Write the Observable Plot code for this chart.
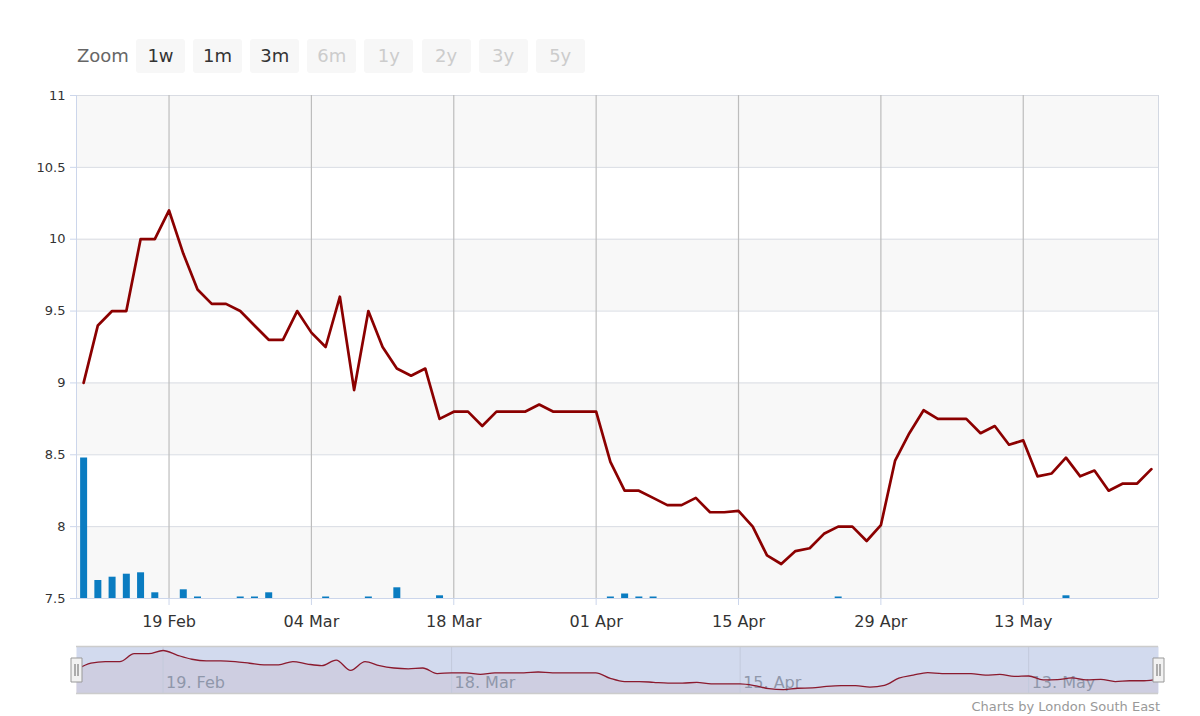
<!DOCTYPE html>
<html>
<head>
<meta charset="utf-8">
<script src="https://cdn.jsdelivr.net/npm/d3@7"></script>
<script src="https://cdn.jsdelivr.net/npm/@observablehq/plot@0.6"></script>
<style>
  html, body { margin: 0; padding: 0; background: #fff; }
  #wrap { position: relative; width: 1200px; height: 716px; font-family: "DejaVu Sans", sans-serif; overflow: hidden; }
  #zoomrow { position: absolute; left: 0; top: 0; width: 1200px; height: 85px; }
  #zoomlabel { position: absolute; left: 77px; top: 45px; font-size: 18px; color: #666; line-height: 22px; }
  .btn { position: absolute; top: 39px; width: 49px; height: 34px; background: #f7f7f7; border-radius: 3px;
         font-size: 18px; line-height: 34px; text-align: center; color: #333; }
  .btn.off { color: #ccc; }
  #main { position: absolute; left: 0; top: 85px; }
  #nav { position: absolute; left: 0; top: 630px; }
  #credits { position: absolute; right: 40px; top: 699px; font-size: 13px; color: #999; line-height: 16px; }
</style>
</head>
<body>
<div id="wrap">
  <div id="zoomrow"></div>
  <div id="main"></div>
  <div id="nav"></div>
  <div id="credits">Charts by London South East</div>
</div>
<script>
// ---- data (trading-day index order) ----
const prices = [
  9.0, 9.4, 9.5, 9.5, 10.0, 10.0, 10.2, 9.9, 9.65, 9.55,
  9.55, 9.5, 9.4, 9.3, 9.3, 9.5, 9.35, 9.25, 9.6, 8.95,
  9.5, 9.25, 9.1, 9.05, 9.1, 8.75, 8.8, 8.8, 8.7, 8.8,
  8.8, 8.8, 8.85, 8.8, 8.8, 8.8, 8.8, 8.45, 8.25, 8.25,
  8.2, 8.15, 8.15, 8.2, 8.1, 8.1, 8.11, 8.0, 7.8, 7.74,
  7.83, 7.85, 7.95, 8.0, 8.0, 7.9, 8.01, 8.46, 8.65, 8.81,
  8.75, 8.75, 8.75, 8.65, 8.7, 8.57, 8.6, 8.35, 8.37, 8.48,
  8.35, 8.39, 8.25, 8.3, 8.3, 8.4
];
const volumes = [
  1404, 180, 213, 243, 257, 57, 0, 87, 15, 0,
  0, 15, 15, 57, 0, 0, 0, 15, 0, 0,
  15, 0, 107, 0, 0, 27, 0, 0, 0, 0,
  0, 0, 0, 0, 0, 0, 0, 15, 45, 15,
  15, 0, 0, 0, 0, 0, 0, 0, 0, 0,
  0, 0, 0, 15, 0, 0, 0, 0, 0, 0,
  0, 0, 0, 0, 0, 0, 0, 0, 0, 27,
  0, 0, 0, 0, 0, 0
];
const tickIdx = [6, 16, 26, 36, 46, 56, 66];
const tickLabels = ["19 Feb", "04 Mar", "18 Mar", "01 Apr", "15 Apr", "29 Apr", "13 May"];
const navTickIdx = [6, 26, 46, 66];
const navTickLabels = ["19. Feb", "18. Mar", "15. Apr", "13. May"];
const yTicks = [7.5, 8, 8.5, 9, 9.5, 10, 10.5, 11];
const bandRanges = [[7.5, 8], [8.5, 9], [9.5, 10], [10.5, 11]];
const zoomButtons = ["1w", "1m", "3m", "6m", "1y", "2y", "3y", "5y"];
const zoomEnabled = [true, true, true, false, false, false, false, false];

// ---- zoom buttons ----
const row = document.getElementById("zoomrow");
const zl = document.createElement("div");
zl.id = "zoomlabel"; zl.textContent = "Zoom"; row.appendChild(zl);
zoomButtons.forEach((b, k) => {
  const d = document.createElement("div");
  d.className = "btn" + (zoomEnabled[k] ? "" : " off");
  d.style.left = (136 + k * 57.1) + "px";
  d.textContent = b;
  row.appendChild(d);
});

// ---- tables ----
const series = prices.map((p, i) => ({i, p}));
const vol = volumes.map((v, i) => ({i, v})).filter(d => d.v > 0);
const labelOf = new Map(tickIdx.map((t, k) => [t, tickLabels[k]]));
const navTicks = navTickIdx.map((t, k) => ({i: t, label: navTickLabels[k]}));

const yMin = 7.5, yMax = 11;
const xDomain = [-0.5, prices.length - 0.5];
const volAxisMax = 5030; // volume value reaching the top of the plot area
const volToY = v => yMin + v / volAxisMax * (yMax - yMin);

const main = Plot.plot({
  width: 1200,
  height: 545,
  marginTop: 10,
  marginBottom: 32,
  marginLeft: 76,
  marginRight: 42,
  style: {fontFamily: "DejaVu Sans, sans-serif", background: "transparent", overflow: "visible"},
  x: {type: "linear", domain: xDomain},
  y: {domain: [yMin, yMax]},
  marks: [
    Plot.rectY(bandRanges, {y1: d => d[0], y2: d => d[1], fill: "#f8f8f8"}),
    Plot.gridY(yTicks, {stroke: "#d9dce3", strokeOpacity: 1}),
    Plot.gridX(tickIdx, {stroke: "#bdbdbd", strokeOpacity: 1, strokeWidth: 1.2}),
    Plot.ruleX([xDomain[1]], {stroke: "#d3d8e2"}),
    Plot.ruleX([xDomain[0]], {stroke: "#ccd6eb"}),
    Plot.ruleY([yMin], {stroke: "#ccd6eb"}),
    Plot.ruleX(vol, {x: "i", y1: yMin, y2: d => volToY(d.v), stroke: "#0a7cc1", strokeWidth: 7}),
    Plot.line(series, {x: "i", y: "p", stroke: "#8b0000", strokeWidth: 2.7, strokeLinejoin: "round"}),
    Plot.axisY(yTicks, {tickSize: 6, tickPadding: 5, stroke: "#ccd6eb", fill: "#333", fontSize: 13, label: null,
      tickFormat: d => String(d)}),
    Plot.axisX(tickIdx, {tickSize: 7, tickPadding: 10, stroke: "#ccd6eb", fill: "#333", fontSize: 16, label: null,
      tickFormat: d => labelOf.get(d)})
  ]
});
document.getElementById("main").appendChild(main);

// ---- navigator ----
const handleRect = {draw(ctx) { ctx.rect(-5.5, -12, 11, 24); }};
const handleGrip = {draw(ctx) { ctx.moveTo(-1.5, -6); ctx.lineTo(-1.5, 6); ctx.moveTo(1.5, -6); ctx.lineTo(1.5, 6); }};

const nav = Plot.plot({
  width: 1200,
  height: 70,
  marginTop: 16,
  marginBottom: 7,
  marginLeft: 76,
  marginRight: 42,
  style: {fontFamily: "DejaVu Sans, sans-serif", background: "transparent", overflow: "visible"},
  x: {type: "linear", domain: [0, prices.length - 1], axis: null},
  y: {domain: [7.5, 10.45], axis: null},
  marks: [
    Plot.frame({fill: "#d2daee", stroke: null}),
    Plot.areaY(series, {x: "i", y1: 7.5, y2: "p", fill: "#8b0000", fillOpacity: 0.05, curve: "monotone-x"}),
    Plot.ruleX(navTickIdx, {stroke: "#c3cadc"}),
    Plot.text(navTicks, {x: "i", text: "label", frameAnchor: "bottom", lineAnchor: "bottom", textAnchor: "start",
      dx: 3, dy: -6, fill: "#8f97aa", fontSize: 16}),
    Plot.line(series, {x: "i", y: "p", stroke: "#8b1a2e", strokeWidth: 1.3, curve: "monotone-x"}),
    Plot.ruleY([10.45], {stroke: "#cccccc", strokeWidth: 1.5}),
    Plot.ruleY([7.5], {stroke: "#cccccc", strokeWidth: 1.5}),
    Plot.dot([0], {frameAnchor: "left", symbol: handleRect, fill: "#f2f2f2", stroke: "#999", strokeWidth: 1}),
    Plot.dot([0], {frameAnchor: "right", symbol: handleRect, fill: "#f2f2f2", stroke: "#999", strokeWidth: 1}),
    Plot.dot([0], {frameAnchor: "left", symbol: handleGrip, fill: "none", stroke: "#666", strokeWidth: 1}),
    Plot.dot([0], {frameAnchor: "right", symbol: handleGrip, fill: "none", stroke: "#666", strokeWidth: 1})
  ]
});
document.getElementById("nav").appendChild(nav);
</script>
</body>
</html>
